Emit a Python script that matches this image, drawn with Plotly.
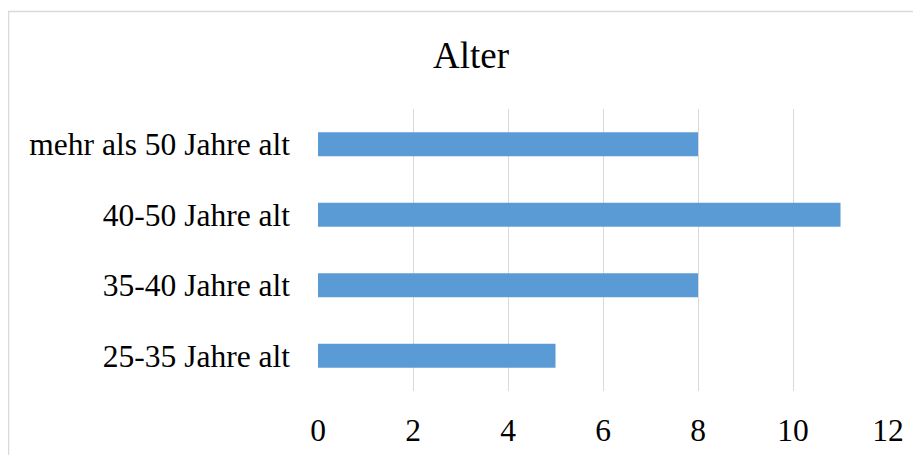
import plotly.graph_objects as go

categories = ["25-35 Jahre alt", "35-40 Jahre alt", "40-50 Jahre alt", "mehr als 50 Jahre alt"]
values = [5, 8, 11, 8]
x_ticks = [0, 2, 4, 6, 8, 10, 12]
title_text = "Alter"

OFF = 8  # page body margin
W, H = 921 - OFF, 455 - OFF
L, R, T, B = 318 - OFF, 33, 109 - OFF, 64
pw, ph = W - L - R, H - T - B

def px_x(x):
    return (x - OFF - L) / pw

def px_y(y):
    return (H - B - (y - OFF)) / ph

fig = go.Figure(go.Bar(
    x=values, y=categories, orientation="h",
    marker=dict(color="#5B9BD5", line=dict(width=0)),
    width=0.34,
))

font_family = "Liberation Serif, Times New Roman, serif"

fig.update_layout(
    width=W, height=H,
    margin=dict(l=L, r=R, t=T, b=B, pad=0),
    paper_bgcolor="white", plot_bgcolor="white",
    showlegend=False,
    font=dict(family=font_family, size=31.5, color="#000000"),
    xaxis=dict(
        range=[0, 12], tickvals=x_ticks, ticktext=[str(v) for v in x_ticks],
        showgrid=True, gridcolor="#d9d9d9", gridwidth=1.3,
        zeroline=False, showline=False, ticks="",
        tickfont=dict(size=31.5, family=font_family, color="#000000"),
        ticklabelstandoff=17, automargin=False,
        fixedrange=True,
    ),
    yaxis=dict(
        range=[-0.5, 3.5], categoryorder="array", categoryarray=categories,
        showgrid=False, zeroline=False, showline=False, ticks="",
        tickfont=dict(size=31.5, family=font_family, color="#000000"),
        ticklabelstandoff=27, automargin=False,
        fixedrange=True,
    ),
    shapes=[dict(
        type="rect", xref="paper", yref="paper",
        x0=px_x(8.5), x1=px_x(930), y0=px_y(470), y1=px_y(11.5),
        line=dict(color="#d9d9d9", width=1.5), fillcolor="rgba(0,0,0,0)",
        layer="below",
    )],
    annotations=[dict(
        text=title_text, xref="paper", yref="paper",
        x=px_x(470.5), y=px_y(55), xanchor="center", yanchor="middle",
        showarrow=False, font=dict(size=37, family=font_family, color="#000000"),
    )],
)

fig.write_html("out.html")
